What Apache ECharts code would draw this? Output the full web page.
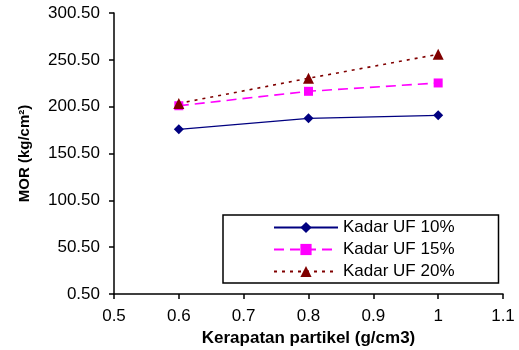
<!DOCTYPE html>
<html>
<head>
<meta charset="utf-8">
<script src="https://cdn.jsdelivr.net/npm/echarts@6/dist/echarts.min.js"></script>
<style>
  html, body { margin: 0; padding: 0; background: #fff; }
  #chart { width: 519px; height: 350px; }
</style>
</head>
<body>
<div id="chart"></div>
<script>
// Particle density (g/cm3) and MOR per UF resin content
const density = [0.6, 0.8, 1.0];
const uf10 = [176.3, 188.1, 191.3];
const uf15 = [201.5, 216.9, 225.8];
const uf20 = [204.0, 230.8, 256.4];
const seriesNames = ['Kadar UF 10%', 'Kadar UF 15%', 'Kadar UF 20%'];

const pairs = ys => density.map((x, i) => [x, ys[i]]);
const font = 'Liberation Sans, Arial, sans-serif';

const chart = echarts.init(document.getElementById('chart'));
chart.setOption({
  animation: false,
  backgroundColor: '#fff',
  grid: { left: 114, right: 16, top: 13, bottom: 56, outerBoundsMode: 'none' },
  xAxis: {
    type: 'value', min: 0.5, max: 1.1, interval: 0.1,
    name: 'Kerapatan partikel (g/cm3)', nameLocation: 'middle', nameGap: 35,
    nameTextStyle: { fontFamily: font, fontSize: 17, fontWeight: 'bold', color: '#000' },
    axisLine: { lineStyle: { color: '#000', width: 1.5 } },
    axisTick: { length: 5, lineStyle: { color: '#000', width: 1.5 } },
    axisLabel: { fontFamily: font, fontSize: 17, color: '#000', margin: 14,
      formatter: v => String(Math.round(v * 10) / 10) },
    splitLine: { show: false }
  },
  yAxis: {
    type: 'value', min: 0.5, max: 300.5, interval: 50,
    name: 'MOR (kg/cm²)', nameLocation: 'middle', nameGap: 82, nameRotate: 90,
    nameTextStyle: { fontFamily: font, fontSize: 15, fontWeight: 'bold', color: '#000' },
    axisLine: { show: true, lineStyle: { color: '#000', width: 1.5 } },
    axisTick: { show: true, length: 5, lineStyle: { color: '#000', width: 1.5 } },
    axisLabel: { fontFamily: font, fontSize: 17, color: '#000', margin: 14,
      formatter: v => v.toFixed(2) },
    splitLine: { show: false }
  },
  legend: {
    orient: 'vertical', left: 223, top: 215,
    padding: [4, 44, 3, 50], itemGap: 5, itemWidth: 64, itemHeight: 14,
    borderColor: '#000', borderWidth: 1.5, backgroundColor: '#fff',
    textStyle: { fontFamily: font, fontSize: 17, lineHeight: 16, color: '#000' },
    data: seriesNames
  },
  series: [
    {
      name: seriesNames[0], type: 'line', data: pairs(uf10),
      symbol: 'diamond', symbolSize: 10,
      lineStyle: { color: '#000080', width: 1.2, type: 'solid' },
      itemStyle: { color: '#000080' }
    },
    {
      name: seriesNames[1], type: 'line', data: pairs(uf15),
      symbol: 'rect', symbolSize: 9,
      lineStyle: { color: '#FF00FF', width: 1.6, type: [10, 6] },
      itemStyle: { color: '#FF00FF' }
    },
    {
      name: seriesNames[2], type: 'line', data: pairs(uf20),
      symbol: 'triangle', symbolSize: 11,
      lineStyle: { color: '#800000', width: 1.6, type: [3, 5] },
      itemStyle: { color: '#800000' }
    }
  ]
});
</script>
</body>
</html>
